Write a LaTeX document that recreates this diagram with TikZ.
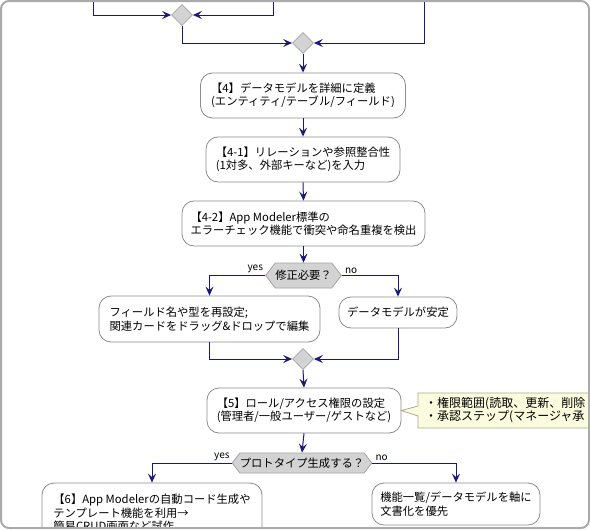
\documentclass[tikz,border=0pt]{standalone}
\usepackage{fontspec}
\setmainfont{Noto Sans CJK JP}
\usetikzlibrary{arrows.meta,shapes.geometric,shapes.symbols}
\definecolor{flow}{RGB}{24,24,128}
\definecolor{boxline}{RGB}{140,140,140}
\definecolor{dia}{RGB}{211,211,211}
\definecolor{dialine}{RGB}{165,165,165}
\definecolor{notefill}{RGB}{251,251,221}
\definecolor{noteline}{RGB}{170,170,150}
\definecolor{framecol}{RGB}{170,170,170}
\begin{document}
\begin{tikzpicture}[x=1pt,y=-1pt,
  box/.style={draw=boxline, fill=white, rounded corners=12pt, line width=0.8pt, align=left,
    font=\fontsize{11.3}{13.5}\selectfont, inner sep=0pt},
  flowline/.style={draw=flow, line width=1pt},
  arr/.style={flowline, -{Stealth[length=9pt,width=8pt,inset=3.5pt]}},
  merge/.style={diamond, draw=dialine, fill=dia, minimum width=21pt, minimum height=21pt, inner sep=0pt, line width=0.8pt},
  hex/.style={signal, signal to=east and west, signal pointer angle=105, draw=dialine, fill=dia,
    inner sep=0pt, line width=0.8pt, font=\fontsize{11.3}{13.5}\selectfont},
  lbl/.style={font=\fontsize{10}{12}\selectfont, inner sep=1pt},
  notetext/.style={align=left, font=\fontsize{12}{13.5}\selectfont, inner sep=0pt}
]
\useasboundingbox (0,0) rectangle (590,530);
\begin{scope}
\clip[rounded corners=8pt] (1,1) rectangle (589,528);
% top merges
\coordinate (tl) at (93,-5);
\coordinate (tm) at (273,-5);
\coordinate (tr) at (424,-5);
\node[merge] (d1) at (182,15) {};
\node[merge] (d2) at (303,43) {};
\draw[arr] (tl) |- (d1.west);
\draw[arr] (tm) |- (d1.east);
\draw[arr] (d1.south) |- (d2.west);
\draw[arr] (tr) |- (d2.east);
% main boxes
\node[box, minimum width=205pt, minimum height=45pt] (b4) at (303,95.5)
  {【4】データモデルを詳細に定義\\(エンティティ/テーブル/フィールド)};
\node[box, minimum width=194pt, minimum height=45pt] (b41) at (303,159.5)
  {【4-1】リレーションや参照整合性\\(1対多、外部キーなど)を入力};
\node[box, minimum width=243pt, minimum height=45pt] (b42) at (303.5,223.5)
  {【4-2】App Modeler標準の\\エラーチェック機能で衝突や命名重複を検出};
\draw[arr] (d2.south) -- (b4.north);
\draw[arr] (b4.south) -- (b41.north);
\draw[arr] (b41.south) -- (b42.north);
% decision 1
\node[hex, minimum width=71pt, minimum height=25pt] (h1) at (303.5,275.5) {修正必要？};
\draw[arr] (b42.south) -- (h1.north);
\node[box, minimum width=221pt, minimum height=46pt] (by) at (209.5,319)
  {フィールド名や型を再設定;\\関連カードをドラッグ\&ドロップで編集};
\node[box, minimum width=118pt, minimum height=31pt] (bn) at (398,312.5) {データモデルが安定};
\draw[arr] (h1.west) -| (by.north);
\draw[arr] (h1.east) -| (bn.north);
\node[lbl, anchor=south east] at ([xshift=-1pt,yshift=1pt]h1.west) {yes};
\node[lbl, anchor=south west] at ([xshift=2pt,yshift=1pt]h1.east) {no};
\node[merge] (d3) at (303,359) {};
\draw[arr] (by.south) |- (d3.west);
\draw[arr] (bn.south) |- (d3.east);
% step 5
\node[box, minimum width=194pt, minimum height=45pt] (b5) at (304,410.5)
  {【5】ロール/アクセス権限の設定\\(管理者/一般ユーザー/ゲストなど)};
\draw[arr] (d3.south) -- (b5.north);
\path[draw=noteline, fill=notefill, line width=0.8pt]
  (418,393) -- (600,393) -- (600,428) -- (418,428) -- (418,416) -- (b5.east) -- (418,406) -- cycle;
\node[notetext, anchor=west] (note) at (425,410)
  {・権限範囲(読取、更新、削除\\・承認ステップ(マネージャ承};
% decision 2
\node[hex, minimum width=130pt, minimum height=20pt] (h2) at (302,463) {プロトタイプ生成する？};
\draw[arr] (b5.south) -- (h2.north);
\node[box, minimum width=220pt, minimum height=60pt] (b6) at (152,513)
  {【6】App Modelerの自動コード生成や\\テンプレート機能を利用→\\簡易CRUD画面など試作};
\node[box, minimum width=168pt, minimum height=42pt] (b7) at (456,504)
  {機能一覧/データモデルを軸に\\文書化を優先};
\draw[arr] (h2.west) -| (b6.north);
\draw[arr] (h2.east) -| (b7.north);
\node[lbl, anchor=south east] at ([xshift=-1pt,yshift=1pt]h2.west) {yes};
\node[lbl, anchor=south west] at ([xshift=2pt,yshift=1pt]h2.east) {no};
\end{scope}
\draw[draw=framecol, line width=2pt, rounded corners=8pt] (1,1) rectangle (589,528);
\end{tikzpicture}
\end{document}
